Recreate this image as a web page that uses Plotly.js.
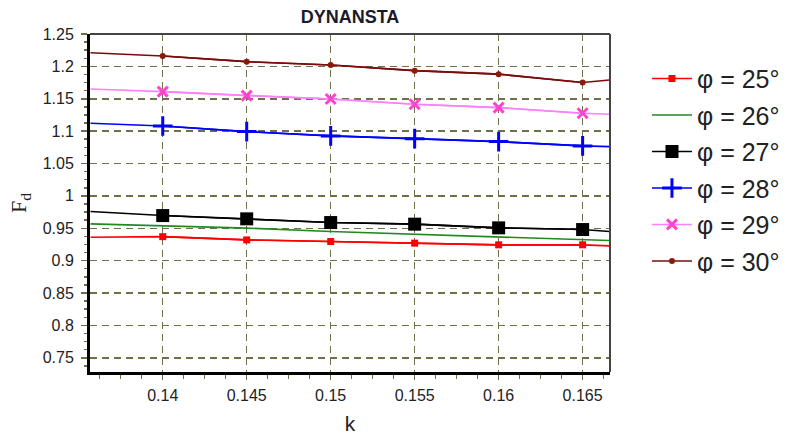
<!DOCTYPE html>
<html>
<head>
<meta charset="utf-8">
<script src="https://cdn.plot.ly/plotly-3.0.1.min.js"></script>
<style>html,body{margin:0;padding:0;background:#fff;}#chart{width:789px;height:435px;}</style>
</head>
<body>
<div id="chart"></div>
<script>
// marker positions (k)
const kMarkers = [0.14, 0.145, 0.15, 0.155, 0.16, 0.165];
// line extent (plot edges) k
const kLine = [0.1357, 0.14, 0.145, 0.15, 0.155, 0.16, 0.165, 0.1666];

const seriesNames = ["φ = 25°", "φ = 26°", "φ = 27°", "φ = 28°", "φ = 29°", "φ = 30°"];

// Fd values read at the markers
const fd25 = [0.937, 0.932, 0.9295, 0.927, 0.9244, 0.9244];
const fd26 = [0.9537, 0.9502, 0.9449, 0.9409, 0.9363, 0.9332];
const fd27 = [0.9696, 0.9645, 0.9588, 0.9563, 0.9506, 0.948];
const fd28 = [1.108, 1.0993, 1.0926, 1.0884, 1.0838, 1.0772];
const fd29 = [1.161, 1.1548, 1.1497, 1.1415, 1.1363, 1.1276];
const fd30 = [1.216, 1.2073, 1.2022, 1.1934, 1.188, 1.175];

// Fd values of the lines at the left and right plot edges
const edge25 = [0.936, 0.9228];
const edge26 = [0.9568, 0.931];
const edge27 = [0.9758, 0.945];
const edge28 = [1.1122, 1.076];
const edge29 = [1.165, 1.126];
const edge30 = [1.221, 1.179];

const xTickVals = [0.14, 0.145, 0.15, 0.155, 0.16, 0.165];
const xTickText = ["0.14", "0.145", "0.15", "0.155", "0.16", "0.165"];
const yTickVals = [0.75, 0.8, 0.85, 0.9, 0.95, 1, 1.05, 1.1, 1.15, 1.2, 1.25];
const yTickText = ["0.75", "0.8", "0.85", "0.9", "0.95", "1", "1.05", "1.1", "1.15", "1.2", "1.25"];

const styles = [
  {line: "#ff0000", mcolor: "#ff0000", symbol: "square", size: 7, mlw: 0, markers: true},
  {line: "#1f8a1f", mcolor: "#1f8a1f", symbol: "circle", size: 0, mlw: 0, markers: false},
  {line: "#000000", mcolor: "#000000", symbol: "square", size: 13, mlw: 0, markers: true},
  {line: "#0000ff", mcolor: "#0000ff", symbol: "cross-thin", size: 14, mlw: 3, markers: true},
  {line: "#ff80ff", mcolor: "#ff44cc", symbol: "x-thin", size: 10, mlw: 3, markers: true},
  {line: "#7a0c0c", mcolor: "#8b1a0a", symbol: "circle", size: 6, mlw: 0, markers: true}
];

const values = [fd25, fd26, fd27, fd28, fd29, fd30];
const edges = [edge25, edge26, edge27, edge28, edge29, edge30];

const traces = [];
values.forEach((v, i) => {
  const s = styles[i];
  const lineY = [edges[i][0]].concat(v, [edges[i][1]]);
  traces.push({
    x: kLine, y: lineY, type: "scatter", mode: "lines",
    line: {color: s.line, width: 1.6},
    legendgroup: "g" + i, showlegend: !s.markers, name: seriesNames[i],
    hoverinfo: "skip"
  });
  if (s.markers) {
    const m = {color: s.mcolor, symbol: s.symbol, size: s.size};
    if (s.mlw) m.line = {color: s.mcolor, width: s.mlw};
    traces.push({
      x: kMarkers, y: v, type: "scatter", mode: "lines+markers",
      line: {color: s.line, width: 1.6},
      marker: m,
      legendgroup: "g" + i, showlegend: true, name: seriesNames[i]
    });
  }
});

const olive = "#6f6f4a";
const layout = {
  width: 789, height: 435,
  margin: {l: 90, r: 179, t: 34, b: 63, pad: 0},
  paper_bgcolor: "#ffffff", plot_bgcolor: "#ffffff",
  title: {text: "<b>DYNANSTA</b>", xref: "paper", x: 0.5, xanchor: "center",
          y: 0.961, yanchor: "middle",
          font: {family: "Liberation Sans, Arial, sans-serif", size: 18, color: "#1a1a2a"}},
  font: {family: "Liberation Sans, Arial, sans-serif", color: "#222"},
  showlegend: true,
  legend: {xref: "container", yref: "container", x: 0.820, xanchor: "left", y: 0.872, yanchor: "top",
           font: {family: "Liberation Sans, Arial, sans-serif", size: 25, color: "#222"},
           itemwidth: 40, tracegroupgap: 1, bgcolor: "rgba(0,0,0,0)"},
  xaxis: {
    range: [0.13567, 0.16663],
    tickmode: "array", tickvals: xTickVals, ticktext: xTickText,
    tickfont: {size: 16, color: "#222"},
    ticks: "outside", ticklen: 5, tickwidth: 1.5, tickcolor: olive,
    minor: {dtick: 0.00125, ticks: "outside", ticklen: 4, tickwidth: 1.5, tickcolor: olive, showgrid: false},
    showgrid: true, gridcolor: olive, gridwidth: 1.5, griddash: "7px,5px",
    showline: true, linecolor: "#000", linewidth: 3, mirror: false,
    zeroline: false,
    ticklabelstandoff: 2,
    title: {text: "k", font: {size: 21, color: "#222"}, standoff: 14}
  },
  yaxis: {
    range: [0.728, 1.25],
    tickmode: "array", tickvals: yTickVals, ticktext: yTickText,
    tickfont: {size: 16, color: "#222"},
    ticks: "outside", ticklen: 6, tickwidth: 1.5, tickcolor: olive,
    minor: {dtick: 0.0125, ticks: "outside", ticklen: 3, tickwidth: 1.5, tickcolor: olive, showgrid: false},
    showgrid: true, gridcolor: olive, gridwidth: 1.5, griddash: "7px,5px",
    showline: true, linecolor: "#000", linewidth: 3, mirror: false,
    zeroline: false,
    ticklabelstandoff: 4,
    title: {text: "F<sub>d</sub>", font: {family: "Liberation Serif, Times New Roman, serif", size: 22, color: "#222"}, standoff: 10}
  },
  shapes: [
    {type: "line", xref: "paper", yref: "paper", x0: 0, x1: 1, y0: 1, y1: 1, line: {color: "#444", width: 2}},
    {type: "line", xref: "paper", yref: "paper", x0: 1, x1: 1, y0: 0, y1: 1, line: {color: "#444", width: 2}}
  ]
};

Plotly.newPlot("chart", traces, layout, {displayModeBar: false, staticPlot: true});
</script>
</body>
</html>
